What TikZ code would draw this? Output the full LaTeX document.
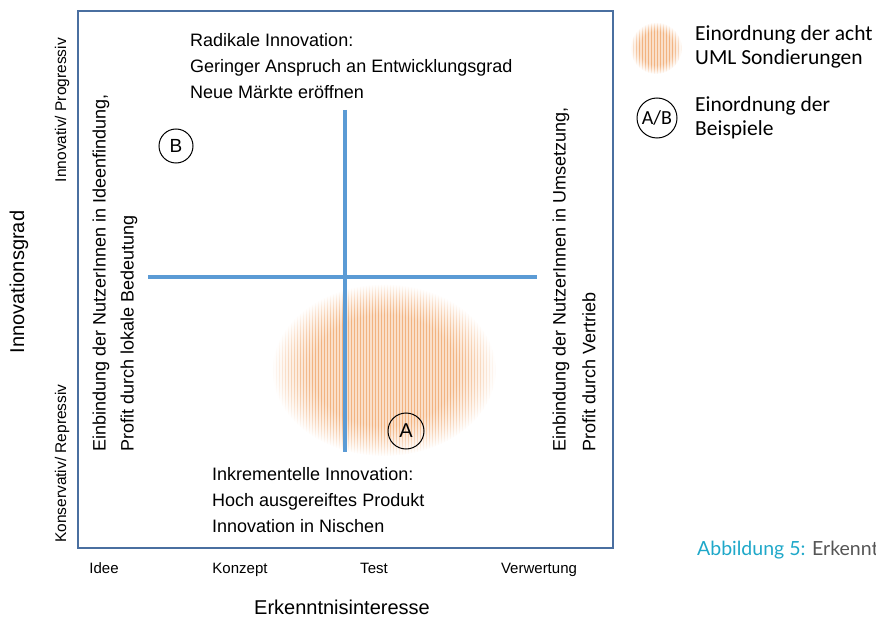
\documentclass[tikz,border=0pt]{standalone}
\usepackage{fontspec}
\setmainfont{Liberation Sans}
\newfontfamily\legendfont{Carlito}
\newfontfamily\capfont{Lato}
\usetikzlibrary{patterns,fadings}
\definecolor{framec}{HTML}{4A6FA0}
\definecolor{linec}{HTML}{5B9BD5}
\definecolor{blobc}{HTML}{EE9A55}
\definecolor{capc}{HTML}{1FA8C9}
\definecolor{capg}{HTML}{555555}
\pgfdeclareradialshading{softsh}{\pgfpointorigin}{color(0bp)=(white); color(16bp)=(white); color(25bp)=(black); color(50bp)=(black)}
\pgfdeclarefading{softedge}{\pgfuseshading{softsh}}
\tikzset{
  body/.style={font=\fontsize{18}{26}\selectfont, inner sep=0pt, align=left},
  small/.style={font=\fontsize{15.5}{18}\selectfont, inner sep=0pt},
  tick/.style={font=\fontsize{15}{17}\selectfont, inner sep=0pt, anchor=base},
  axis/.style={font=\fontsize{20}{23}\selectfont, inner sep=0pt},
  legend/.style={font=\legendfont\fontsize{21.5}{24.5}\selectfont, inner sep=0pt, align=left},
  quad/.style={linec, line width=3.5pt},
  mark circle/.style={circle, draw=black, line width=1pt, inner sep=0pt},
  blob/.style={path fading=softedge}
}
\begin{document}
\begin{tikzpicture}[x=1pt,y=-1pt]
\useasboundingbox (0,0) rectangle (876,623);
% ellipse of the eight UML probes
\fill[blobc!32!white, blob] (384,370) ellipse [x radius=112, y radius=86];
\fill[pattern=vertical lines, pattern color=blobc!75, blob] (384,370) ellipse [x radius=112, y radius=86];
% frame
\draw[framec, line width=1.2pt] (78,11) rectangle (613,548);
% quadrant lines
\coordinate (vt) at (345,110);
\coordinate (vb) at (345,452);
\coordinate (hl) at (148,277);
\coordinate (hr) at (537,277);
\draw[quad] (vt) -- (vb);
\draw[quad] (hl) -- (hr);
% texts in the quadrants (base = baseline of last line)
\node[body, anchor=base west] (top) at (190,99) {Radikale Innovation:\\Geringer Anspruch an Entwicklungsgrad\\Neue Märkte eröffnen};
\node[body, anchor=base west] (bot) at (212,532) {Inkrementelle Innovation:\\Hoch ausgereiftes Produkt\\Innovation in Nischen};
\node[body, rotate=90, anchor=west] (l1) at (101,452) {Einbindung der NutzerInnen in Ideenfindung,};
\node[body, rotate=90, anchor=west] (l2) at (129,452) {Profit durch lokale Bedeutung};
\node[body, rotate=90, anchor=west] (r1) at (561,452) {Einbindung der NutzerInnen in Umsetzung,};
\node[body, rotate=90, anchor=west] (r2) at (589,452) {Profit durch Vertrieb};
% markers
\node[mark circle, minimum size=34pt, font=\fontsize{19}{20}\selectfont] (B) at (176,146) {B};
\node[mark circle, minimum size=36pt, font=\fontsize{20}{20}\selectfont] (A) at (406,431) {A};
% axis labels
\node[small, rotate=90, anchor=east] (prog) at (62,38) {Innovativ/ Progressiv};
\node[small, rotate=90, anchor=west] (kons) at (62,543) {Konservativ/ Repressiv};
\node[axis, rotate=90] (ig) at (19,282) {Innovationsgrad};
\node[tick] (t1) at (104,573) {Idee};
\node[tick] (t2) at (240,573) {Konzept};
\node[tick] (t3) at (374,573) {Test};
\node[tick] (t4) at (539,573) {Verwertung};
\node[axis] (ek) at (342,607) {Erkenntnisinteresse};
% legend
\fill[blobc!32!white, blob] (656,48) circle [radius=26];
\fill[pattern=vertical lines, pattern color=blobc!75, blob] (656,48) circle [radius=26];
\node[legend, anchor=base west] (lg1) at (695,65) {Einordnung der acht\\UML Sondierungen};
\node[mark circle, minimum size=40pt, font=\legendfont\fontsize{20}{20}\selectfont] (AB) at (657,118) {A/B};
\node[legend, anchor=base west] (lg2) at (695,136) {Einordnung der\\Beispiele};
% caption (cut at right edge as in the reference)
\begin{scope}
\clip (0,0) rectangle (876,623);
\node[inner sep=0pt, anchor=base west, font=\capfont\fontsize{19.5}{22}\selectfont] (cap) at (697,555) {\textcolor{capc}{Abbildung 5:} \textcolor{capg}{Erkennt}};
\end{scope}
\end{tikzpicture}
\end{document}
